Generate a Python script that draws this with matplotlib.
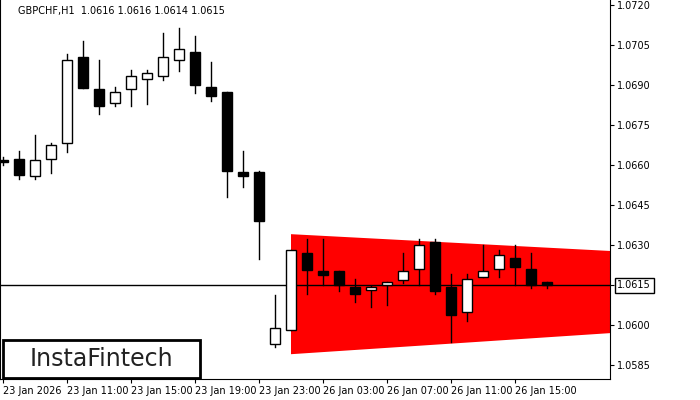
import matplotlib
matplotlib.use("Agg")
import matplotlib.pyplot as plt
from matplotlib.patches import Rectangle, Polygon

opens  = [1.0662,1.06623,1.06559,1.06623,1.06683,1.07005,1.06885,1.06833,1.06885,1.06923,1.06934,1.06994,1.07024,1.06893,1.06874,1.06574,1.06574,1.05929,1.05981,1.0627,1.06203,1.06203,1.06143,1.06131,1.0615,1.06169,1.06211,1.06311,1.06143,1.06049,1.0618,1.0621,1.06251,1.0621,1.06161]
highs  = [1.0663,1.06653,1.06713,1.06683,1.07016,1.07065,1.06994,1.06893,1.06956,1.06956,1.07095,1.07114,1.07084,1.06986,1.06874,1.06653,1.06578,1.06113,1.06281,1.06323,1.06323,1.06203,1.06173,1.06146,1.06161,1.0627,1.06323,1.06323,1.06191,1.06191,1.063,1.06281,1.063,1.0627,1.06161]
lows   = [1.0660,1.06548,1.06548,1.0657,1.06649,1.06889,1.06791,1.06821,1.06821,1.06829,1.06919,1.06953,1.0687,1.0684,1.0648,1.06518,1.06248,1.05918,1.05981,1.06116,1.0615,1.06128,1.06086,1.06068,1.06075,1.06158,1.0615,1.06116,1.05936,1.06015,1.0618,1.0618,1.0615,1.06139,1.06139]
closes = [1.0661,1.06563,1.06619,1.06675,1.06994,1.06889,1.06821,1.06874,1.06934,1.06945,1.07005,1.07035,1.069,1.06859,1.06578,1.06559,1.0639,1.05989,1.06281,1.06206,1.06188,1.0615,1.06116,1.06143,1.06161,1.06203,1.063,1.06128,1.06038,1.06173,1.06203,1.06263,1.06218,1.0615,1.0615]
tri_x = [18, 37.94]
tri_top = [1.06341, 1.06278]
tri_bot = [1.05891, 1.05970]
price_ticks = [1.0585,1.0600,1.0615,1.0630,1.0645,1.0660,1.0675,1.0690,1.0705,1.0720]
time_labels = ["23 Jan 2026","23 Jan 11:00","23 Jan 15:00","23 Jan 19:00","23 Jan 23:00","26 Jan 03:00","26 Jan 07:00","26 Jan 11:00","26 Jan 15:00"]
current = 1.0615

fig = plt.figure(figsize=(7,4), dpi=100)
ax = fig.add_axes([0, 21/400, 610/700, 379/400])
ax.set_xlim(-0.1875, 37.9375)
ax.set_ylim(1.05798, 1.07219)

ax.add_patch(Polygon([(tri_x[0],tri_top[0]),(tri_x[1],tri_top[1]),(tri_x[1],tri_bot[1]),(tri_x[0],tri_bot[0])],
                     closed=True, facecolor='#ff0000', edgecolor='none', zorder=1))
ax.axhline(current, color='black', lw=1, zorder=2)
w = 0.62
for i,(o,h,l,c) in enumerate(zip(opens,highs,lows,closes)):
    ax.plot([i,i],[l,h], color='black', lw=1, zorder=3)
    white = c > o
    ax.add_patch(Rectangle((i-w/2, min(o,c)), w, max(abs(c-o),0.00004),
                 facecolor='white' if white else 'black', edgecolor='black', lw=1, zorder=4))

ax.yaxis.tick_right()
ax.set_yticks(price_ticks)
ax.set_yticklabels([f"{p:.4f}" for p in price_ticks], fontsize=7)
ax.set_xticks(range(0,33,4))
ax.set_xticklabels(time_labels, fontsize=7, ha='left')
ax.tick_params(axis='both', length=3, pad=2)
for s in ['top']:
    ax.spines[s].set_visible(False)
ax.text(0.03, 0.985, "GBPCHF,H1  1.0616 1.0616 1.0614 1.0615", transform=ax.transAxes,
        fontsize=7, va='top', ha='left')
ax.text(1.012, current, "1.0615", transform=ax.get_yaxis_transform(), fontsize=7, va='center', ha='left',
        bbox=dict(boxstyle='square,pad=0.25', facecolor='white', edgecolor='black', lw=1))

fig.patches.append(Rectangle((3/700, 22/400), 197/700, 38/400, transform=fig.transFigure,
                             facecolor='white', edgecolor='black', lw=2, zorder=10))
fig.text(101/700, 41/400, "InstaFintech", fontsize=17, ha='center', va='center', color='#222222', zorder=11)

fig.savefig("out.png", dpi=100)
